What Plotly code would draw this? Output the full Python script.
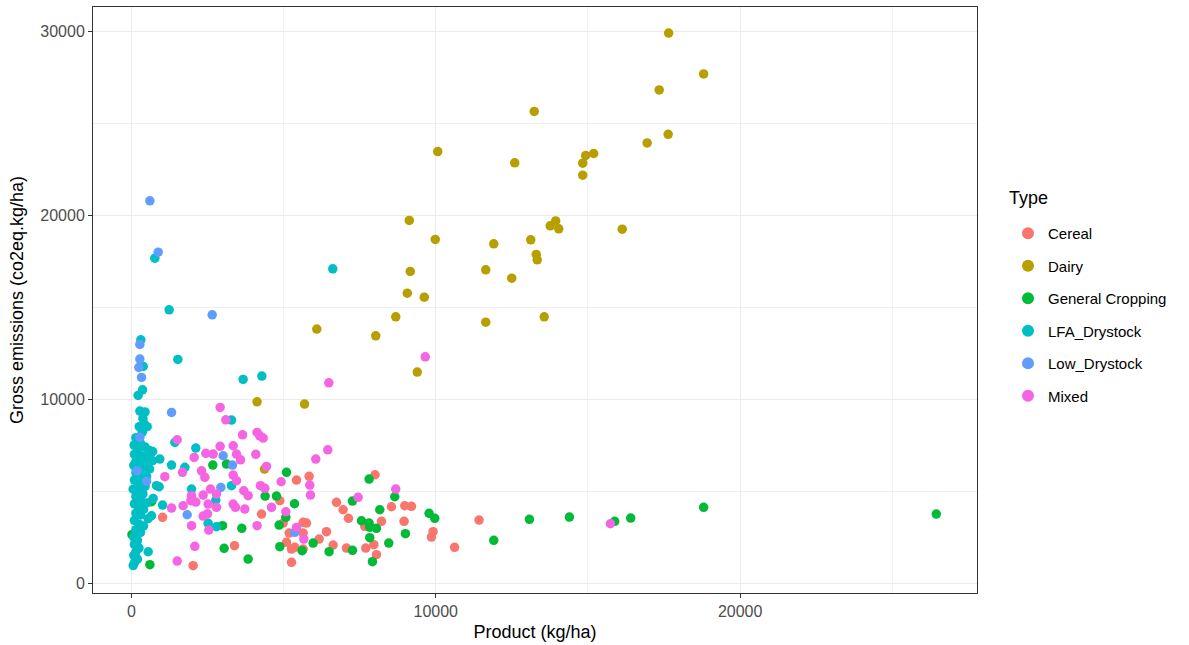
import plotly.graph_objects as go

categories = ["Cereal", "Dairy", "General Cropping", "LFA_Drystock", "Low_Drystock", "Mixed"]
colors = ["#F8766D", "#B79F00", "#00BA38", "#00BFC4", "#619CFF", "#F564E3"]

cereal_x = [1025, 3389, 2030, 5425, 5840, 4877, 4276, 4986, 5643, 5753, 5184, 5643, 6410, 5097, 5261, 5370,
            5643, 6168, 6627, 7067, 6739, 6956, 7133, 5261, 8007, 8544, 8982, 9202, 8216, 7668, 8960, 11422,
            9912, 9858, 7964, 7701, 8052, 10618]
cereal_y = [3570, 2030, 942, 5598, 5800, 4473, 3750, 3261, 3300, 3261, 2718, 2718, 2790, 2210, 1848, 1940,
            1848, 2391, 2065, 1902, 4386, 3984, 3516, 1125, 5886, 4147, 4201, 4168, 3353, 3080, 3353, 3424,
            2790, 2500, 2082, 1902, 1540, 1940]

dairy_x = [17650, 18800, 17340, 13235, 17635, 16945, 10065, 12594, 14926, 15188, 14827, 14827, 9130, 13940,
           13760, 14040, 16125, 9983, 11905, 13120, 13300, 13333, 11642, 9162, 12496, 9064, 9622, 8686,
           11642, 13563, 6092, 8029, 9392, 4130, 5690, 4374]
dairy_y = [29900, 27680, 26810, 25640, 24400, 23930, 23460, 22845, 23245, 23354, 22827, 22175, 19713, 19690,
           19420, 19257, 19240, 18680, 18443, 18660, 17864, 17574, 17030, 16940, 16577, 15762, 15544, 14475,
           14185, 14475, 13805, 13442, 11468, 9855, 9730, 6196]

general_x = [2676, 3126, 663, 2995, 3629, 20, 3048, 608, 3836, 5097, 4395, 4768, 5359, 5074, 4855, 4877,
             5971, 5609, 6496, 7264, 7264, 7810, 8653, 8161, 7559, 7810, 7832, 8052, 9780, 9967, 9004, 7832,
             8456, 7920, 11905, 13077, 14390, 15878, 16404, 18801, 26443]
general_y = [6413, 6468, 4419, 3115, 2973, 2630, 1886, 996, 1304, 6016, 4729, 4729, 4310, 3570, 3150, 1975,
             2174, 1757, 1703, 1776, 4457, 5652, 4690, 3984, 3386, 3261, 3027, 2973, 3788, 3516, 2680, 2462,
             2174, 1160, 2320, 3462, 3587, 3353, 3533, 4114, 3750]

lfa_x = [1242, 772, 1527, 3672, 4286, 6617, 312, 389, 367, 223,
         280, 450, 380, 420, 260, 520, 360, 150, 90, 300, 200, 450, 600, 700, 100, 250, 400, 550, 150, 350,
         700, 936, 80, 250, 450, 600, 150, 350, 500, 100, 300, 200, 450, 827, 913, 60, 250, 380, 150, 300,
         716, 500, 100, 250, 1025, 400, 150, 300, 663, 550, 100, 250, 400, 150, 300, 80, 200, 100, 250, 150,
         553, 80, 200, 100, 60,
         1430, 2118, 1320, 1757, 1977, 3290, 2775, 2522, 2798, 3290]
lfa_y = [14854, 17664, 12157, 11070, 11250, 17083, 13224, 11776, 10507, 10200,
         9350, 9300, 8950, 8650, 8500, 8500, 8200, 7900, 7500, 7600, 7300, 7400, 7200, 7150, 7000, 7000,
         6900, 6800, 6600, 6600, 6650, 6740, 6400, 6300, 6350, 6200, 6000, 5900, 5800, 5600, 5500, 5300,
         5250, 5290, 5235, 5100, 5000, 4850, 4700, 4500, 4600, 4350, 4300, 4100, 4240, 4000, 3800, 3700,
         3658, 3500, 3400, 3200, 3100, 2900, 2750, 2500, 2300, 2100, 1900, 1700, 1700, 1500, 1300, 1100, 950,
         7645, 7337, 6413, 6290, 5110, 5290, 4511, 3245, 3060, 8860]

low_x = [608, 882, 2655, 279, 279, 246, 334, 1320, 280, 190, 500, 2940, 3016, 3323, 1834, 5370]
low_y = [20780, 17990, 14580, 12973, 12174, 11723, 11180, 9277, 7920, 6100, 5527, 5200, 6920, 6413, 3712, 2755]

mixed_x = [9655, 6486, 2917, 3104, 3652, 1505, 2917, 3345, 2447, 2687, 3455, 2063, 3586, 1680, 2305, 2414,
           1100, 3345, 3455, 2600, 3694, 1977, 2358, 2798, 3836, 1955, 2118, 2522, 1320, 1701, 2798, 3345,
           3420, 3727, 2358, 2500, 1977, 2545, 2085, 1505, 4130, 4220, 4330, 4088, 4440, 6059, 6453, 4920,
           5862, 5884, 4243, 4384, 4604, 5074, 4130, 5425, 5665, 7448, 8686, 15737]
mixed_y = [12300, 10886, 9550, 8876, 8060, 7790, 7430, 7463, 7050, 7011, 7011, 6830, 6700, 6016, 6100, 5745,
           5780, 5870, 5560, 5110, 5017, 4747, 4783, 4837, 4747, 4475, 4400, 4294, 4076, 4201, 4114, 4294,
           4114, 4022, 3640, 3760, 3115, 2880, 1995, 1196, 8190, 8006, 7880, 6995, 6340, 6740, 7245, 5506,
           5326, 4783, 5290, 5147, 4114, 3875, 3115, 3025, 2391, 4658, 5109, 3223]

data = [(cereal_x, cereal_y), (dairy_x, dairy_y), (general_x, general_y),
        (lfa_x, lfa_y), (low_x, low_y), (mixed_x, mixed_y)]

x_ticks = [0, 10000, 20000]
y_ticks = [0, 10000, 20000, 30000]

FONT = "Liberation Sans, Arial, sans-serif"

fig = go.Figure()
for i, (name, col, (xs, ys)) in enumerate(zip(categories, colors, data)):
    fig.add_trace(go.Scatter(
        x=xs, y=ys, mode="markers", name=name, legendgroup=name,
        marker=dict(color=col, size=9.5, line=dict(width=0)),
    ))

axis_common = dict(
    showline=True, mirror=True, linecolor="#333333", linewidth=1,
    ticks="outside", ticklen=4, tickcolor="#333333", tickwidth=1,
    gridcolor="#EBEBEB", gridwidth=1.1, zeroline=False, automargin=False,
    tickfont=dict(family=FONT, size=16, color="#4D4D4D"),
    title_font=dict(family=FONT, size=18, color="#000000"),
)

fig.update_xaxes(
    range=[-1260, 27780], tickvals=x_ticks, ticktext=[str(v) for v in x_ticks],
    minor=dict(tickvals=[5000, 15000, 25000], showgrid=True, gridcolor="#F0F0F0", gridwidth=0.6, ticks=""),
    title_text="Product (kg/ha)", title_standoff=6, **axis_common)
fig.update_yaxes(
    range=[-543, 31320], tickvals=y_ticks, ticktext=[str(v) for v in y_ticks],
    minor=dict(tickvals=[5000, 15000, 25000], showgrid=True, gridcolor="#F0F0F0", gridwidth=0.6, ticks=""),
    title_text="Gross emissions (co2eq.kg/ha)", title_standoff=11, **axis_common)

fig.add_annotation(
    text="Type", xref="paper", yref="paper", x=(1007 - 93) / 884, y=(593 - 198) / 586,
    xanchor="left", yanchor="middle", showarrow=False,
    font=dict(family=FONT, size=18, color="#000000"),
)

fig.update_layout(
    width=1189, height=645,
    margin=dict(l=93, r=212, t=7, b=52),
    plot_bgcolor="white", paper_bgcolor="white",
    font=dict(family=FONT),
    legend=dict(
        font=dict(family=FONT, size=15, color="#000000"),
        x=(1008 - 93) / 884, xanchor="left", y=(593 - 217) / 586, yanchor="top",
        tracegroupgap=10, itemsizing="constant",
    ),
    showlegend=True,
)

fig.write_html("out.html", config={"displayModeBar": False},
               post_script="document.body.style.margin='0';document.body.style.overflow='hidden';")
